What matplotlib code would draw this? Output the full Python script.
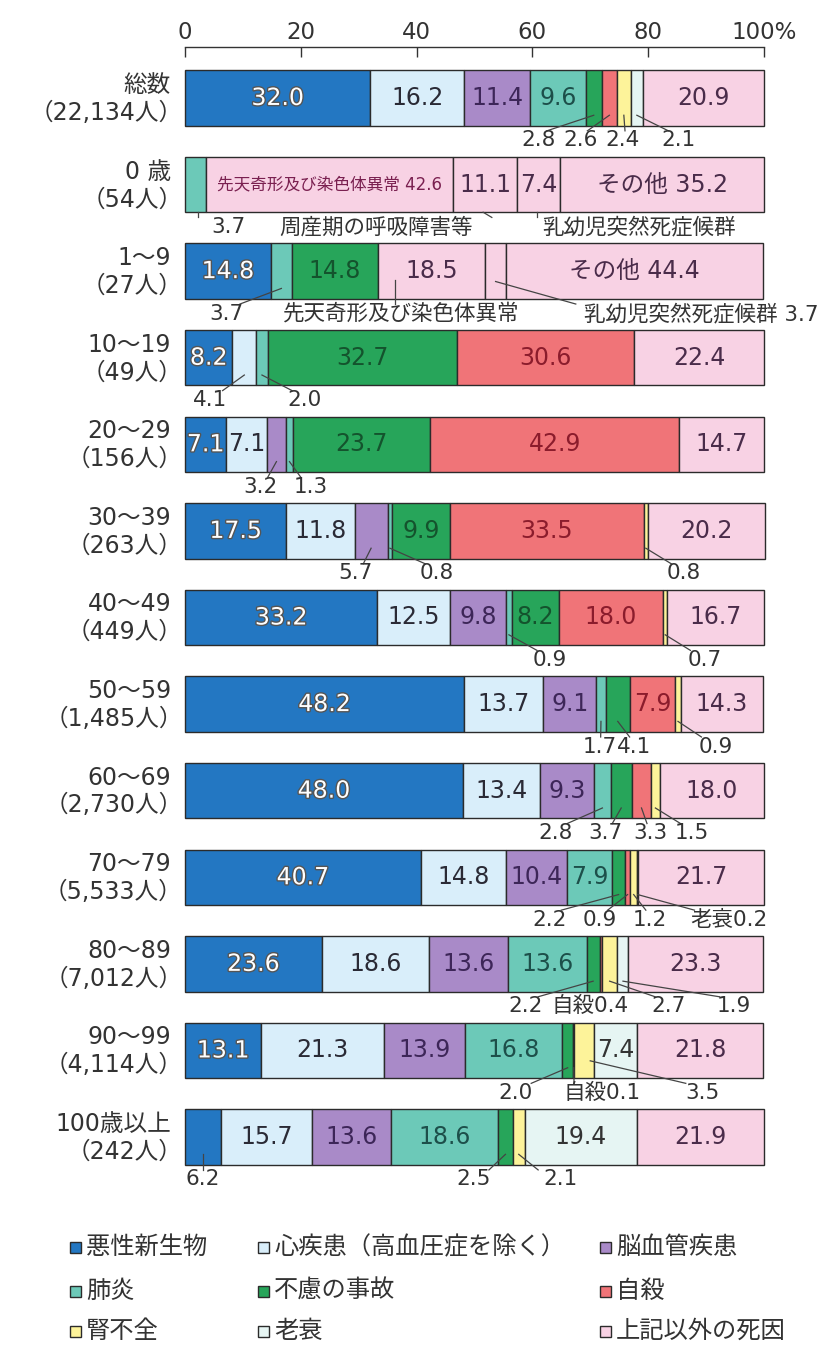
import matplotlib
matplotlib.use('Agg')
from matplotlib import pyplot as plt
import matplotlib.patheffects as pe

plt.rcParams['font.family'] = ['DejaVu Sans', 'Noto Sans CJK JP']

# causes of death (legend order)
causes = ['悪性新生物', '心疾患（高血圧症を除く）', '脳血管疾患', '肺炎', '不慮の事故',
          '自殺', '腎不全', '老衰', '上記以外の死因']
colors = ['#2377c2', '#d9eefa', '#a98ac8', '#6cc9b8', '#27a55a',
          '#f07478', '#fdf39a', '#e6f5f3', '#f8d2e4']
txt_colors = ['white', '#2a2a35', '#3d2658', '#1d4f4a', '#14532d',
              '#8b1c2c', '#333333', '#333333', '#4a2c4a']

ages = ['総数', '0 歳', '1～9', '10～19', '20～29', '30～39', '40～49', '50～59',
        '60～69', '70～79', '80～89', '90～99', '100歳以上']
counts = ['22,134', '54', '27', '49', '156', '263', '449', '1,485', '2,730',
          '5,533', '7,012', '4,114', '242']

# percentage per segment, left to right
values = [
    [32.0, 16.2, 11.4, 9.6, 2.8, 2.6, 2.4, 2.1, 20.9],
    [3.7, 42.6, 11.1, 7.4, 35.2],
    [14.8, 3.7, 14.8, 18.5, 3.7, 44.4],
    [8.2, 4.1, 0, 2.0, 32.7, 30.6, 0, 0, 22.4],
    [7.1, 7.1, 3.2, 1.3, 23.7, 42.9, 0, 0, 14.7],
    [17.5, 11.8, 5.7, 0.8, 9.9, 33.5, 0.8, 0, 20.2],
    [33.2, 12.5, 9.8, 0.9, 8.2, 18.0, 0.7, 0, 16.7],
    [48.2, 13.7, 9.1, 1.7, 4.1, 7.9, 0.9, 0, 14.3],
    [48.0, 13.4, 9.3, 2.8, 3.7, 3.3, 1.5, 0, 18.0],
    [40.7, 14.8, 10.4, 7.9, 2.2, 0.9, 1.2, 0.2, 21.7],
    [23.6, 18.6, 13.6, 13.6, 2.2, 0.4, 2.7, 1.9, 23.3],
    [13.1, 21.3, 13.9, 16.8, 2.0, 0.1, 3.5, 7.4, 21.8],
    [6.2, 15.7, 13.6, 18.6, 2.5, 0, 2.1, 19.4, 21.9],
]
# infants use their own breakdown (pink = other causes)
seg_cats = {1: [3, 8, 8, 8, 8], 2: [0, 3, 4, 8, 8, 8]}
inbar_fmt = {(1, 1): '先天奇形及び染色体異常 {}', (1, 4): 'その他 {}', (2, 5): 'その他 {}'}

# labels under the bar: row, seg, text, text x, align, leader x
annots = [
    (0, 4, '{}', 61.0, 'center', 62.5), (0, 5, '{}', 68.3, 'center', 69.5),
    (0, 6, '{}', 75.6, 'center', 76.0), (0, 7, '{}', 85.3, 'center', 83.5),
    (1, 0, '{}', 7.5, 'center', 2.2), (1, 2, '周産期の呼吸障害等', 33.0, 'center', 53.0),
    (1, 3, '乳幼児突然死症候群', 61.7, 'left', 60.8),
    (2, 1, '{}', 7.1, 'center', 9.5), (2, 3, '先天奇形及び染色体異常', 37.3, 'center', 36.2),
    (2, 4, '乳幼児突然死症候群 {}', 69.0, 'left', 67.5),
    (3, 1, '{}', 4.4, 'center', 6.5), (3, 3, '{}', 20.7, 'center', 18.5),
    (4, 2, '{}', 13.0, 'center', 14.3), (4, 3, '{}', 21.7, 'center', 20.0),
    (5, 2, '{}', 29.4, 'center', 30.8), (5, 3, '{}', 43.5, 'center', 41.5),
    (5, 6, '{}', 86.2, 'center', 84.0),
    (6, 3, '{}', 63.0, 'center', 60.8), (6, 6, '{}', 89.8, 'center', 87.3),
    (7, 3, '{}', 71.7, 'center', 71.8), (7, 4, '{}', 77.6, 'center', 76.8),
    (7, 6, '{}', 91.7, 'center', 89.2),
    (8, 3, '{}', 64.0, 'center', 66.0), (8, 4, '{}', 72.6, 'center', 73.8),
    (8, 5, '{}', 80.3, 'center', 79.8), (8, 6, '{}', 87.6, 'center', 85.6),
    (9, 4, '{}', 63.0, 'center', 65.0), (9, 5, '{}', 71.7, 'center', 73.0),
    (9, 6, '{}', 80.3, 'center', 79.6), (9, 7, '老衰{}', 94.0, 'center', 88.0),
    (10, 4, '{}', 58.9, 'center', 61.0), (10, 5, '自殺{}', 69.9, 'center', None),
    (10, 6, '{}', 83.5, 'center', 81.2), (10, 7, '{}', 94.8, 'center', 92.3),
    (11, 4, '{}', 57.1, 'center', 59.8), (11, 5, '自殺{}', 72.1, 'center', 67.2),
    (11, 6, '{}', 89.4, 'center', 86.5),
    (12, 0, '{}', 3.0, 'center', 3.1), (12, 4, '{}', 49.9, 'center', 52.5),
    (12, 6, '{}', 64.9, 'center', 61.0),
]
lead_end = {(1, 0): (2.2, 0.32), (1, 2): (51.5, 0.32), (1, 3): (60.8, 0.32),
            (2, 3): (36.2, 0.1), (2, 4): (53.65, 0.12), (11, 6): (70.0, 0.12)}

fig = plt.figure(figsize=(8.25, 13.45), dpi=100)
ax = fig.add_axes([0.2242, 0.116, 0.7018, 0.8491])
ax.set_xlim(0, 100)
ax.set_ylim(12.6, -0.589)

edge = '#2b2b2b'
for r, vals in enumerate(values):
    cats = seg_cats.get(r, list(range(9)))
    left = 0
    mids = []
    for s, (v, c) in enumerate(zip(vals, cats)):
        mids.append(left + v / 2)
        if v > 0:
            ax.barh(r, v, left=left, height=0.64, color=colors[c], edgecolor=edge,
                    linewidth=1.0, clip_on=False)
        if v >= 7:
            fmt = inbar_fmt.get((r, s), '{}')
            fs = 12 if len(fmt) > 10 else 17
            tc = '#7a2050' if fs == 12 else txt_colors[c]
            t = ax.text(left + v / 2, r, fmt.format(v), ha='center', va='center',
                        fontsize=fs, color=tc)
            if c == 0:
                t.set_path_effects([pe.withStroke(linewidth=2, foreground='#555555')])
        left += v
    for a in annots:
        if a[0] != r:
            continue
        _, s, fmt, tx, ha, lx = a
        ax.text(tx, r + 0.49, fmt.format(vals[s]), ha=ha, va='center',
                fontsize=15.5, color='#333333')
        if lx is None:
            continue
        ex, ey = lead_end.get((r, s), (mids[s], 0.2))
        ax.plot([lx, ex], [r + 0.38, r + ey], color='#444444', lw=0.9,
                clip_on=False)
    # row labels
    ax.text(-2.4, r - 0.15, ages[r], ha='right', va='center', fontsize=17,
            color='#333333')
    ax.text(-0.4, r + 0.17, '（' + counts[r] + '人）', ha='right', va='center',
            fontsize=17, color='#333333')

ax.xaxis.tick_top()
ax.set_xticks([0, 20, 40, 60, 80, 100])
ax.set_xticklabels(['0', '20', '40', '60', '80', '100%'])
ax.tick_params(axis='x', direction='in', length=7, width=1, pad=2,
               labelsize=16.5, colors='#333333')
ax.set_yticks([])
for side in ['bottom', 'left', 'right']:
    ax.spines[side].set_visible(False)
ax.spines['top'].set_color('#333333')
ax.spines['top'].set_linewidth(1.0)

# legend, 3 x 3 grid filled row by row
leg_x = [70, 258, 600]
leg_y = [1247, 1291, 1331]
W, H = 825.0, 1345.0
for i, name in enumerate(causes):
    x = leg_x[i % 3]
    y = leg_y[i // 3]
    fig.patches.append(plt.Rectangle((x / W, 1 - (y + 5.5) / H), 11 / W, 11 / H,
                                     transform=fig.transFigure, facecolor=colors[i],
                                     edgecolor=edge, linewidth=1.0))
    fig.text((x + 16) / W, 1 - y / H, name, ha='left', va='center', fontsize=17.5,
             color='#333333')

fig.savefig('out.png', dpi=100)
